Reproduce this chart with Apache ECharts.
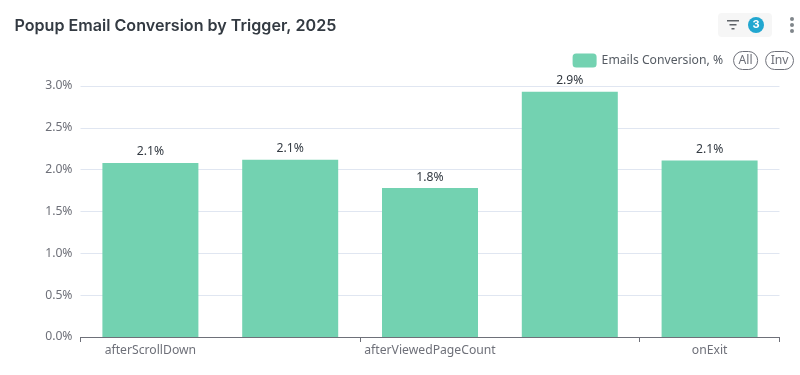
<!DOCTYPE html>
<html>
<head>
<meta charset="utf-8">
<style>html,body{margin:0;padding:0;background:#fff}#c{width:800px;height:375px}</style>
<script src="https://cdn.jsdelivr.net/npm/echarts@6/dist/echarts.min.js"></script>
</head>
<body>
<div id="c"></div>
<script>
const chartTitle = 'Popup Email Conversion by Trigger, 2025';
const seriesName = 'Emails Conversion, %';
const categories = ['afterScrollDown', '', 'afterViewedPageCount', '', 'onExit'];
const conversion = [2.08, 2.12, 1.78, 2.93, 2.11];
const FONT = '"Noto Sans", sans-serif';

const chart = echarts.init(document.getElementById('c'), null, {renderer: 'canvas'});
chart.setOption({
  animation: false,
  textStyle: {fontFamily: FONT},
  title: {
    text: chartTitle, left: 9.5, top: 13,
    textStyle: {fontFamily: 'Inter', fontSize: 16.1, fontWeight: 600, color: '#333a42'}
  },
  legend: {
    right: 1, top: 46, itemWidth: 24, itemHeight: 14, itemGap: 5,
    icon: 'roundRect',
    data: [seriesName],
    textStyle: {fontSize: 12.2, color: '#555b63', fontFamily: FONT},
    selector: [{type: 'all', title: 'All'}, {type: 'inverse', title: 'Inv'}],
    selectorLabel: {fontSize: 12.2, fontFamily: FONT, color: '#6e7079', borderColor: '#6e7079', borderWidth: 1, borderRadius: 10, padding: [3, 5]},
    selectorItemGap: 7,
    selectorButtonGap: 10
  },
  grid: {left: 80.5, right: 20.5, top: 86, bottom: 38},
  xAxis: {
    type: 'category',
    data: categories,
    axisLine: {lineStyle: {color: '#6e7079', width: 1}},
    axisTick: {show: true, interval: 1, length: 5, alignWithLabel: false, lineStyle: {color: '#6e7079'}},
    axisLabel: {interval: 1, show: true, fontSize: 12.2, color: '#6e7079', margin: 8, fontFamily: FONT}
  },
  yAxis: {
    type: 'value', min: 0, max: 3, interval: 0.5,
    axisLabel: {formatter: v => v.toFixed(1) + '%', fontSize: 12.2, color: '#6e7079', margin: 8, fontFamily: FONT},
    axisLine: {show: false}, axisTick: {show: false},
    splitLine: {lineStyle: {color: '#e0e6f1'}}
  },
  series: [{
    name: seriesName, type: 'bar', data: conversion, barWidth: 96,
    itemStyle: {color: '#73d2b1'},
    label: {show: true, position: 'top', distance: 5, fontSize: 12.2, color: '#333a42', fontFamily: FONT, formatter: p => p.value.toFixed(1) + '%'}
  }],
  graphic: [
    {type: 'rect', shape: {x: 718, y: 13, width: 54, height: 24, r: 4}, style: {fill: '#f6f6f6'}},
    {type: 'rect', shape: {x: 727, y: 20, width: 12, height: 1.5}, style: {fill: '#5f6368'}},
    {type: 'rect', shape: {x: 729.5, y: 24, width: 7, height: 1.5}, style: {fill: '#5f6368'}},
    {type: 'rect', shape: {x: 731.5, y: 28, width: 3, height: 1.5}, style: {fill: '#5f6368'}},
    {type: 'circle', shape: {cx: 756, cy: 25, r: 8}, style: {fill: '#22a7d0'}},
    {type: 'text', style: {x: 756, y: 25, text: '3', fill: '#fff', fontSize: 11, fontWeight: 700, fontFamily: 'Inter', align: 'center', verticalAlign: 'middle'}},
    {type: 'circle', shape: {cx: 792, cy: 19, r: 2}, style: {fill: '#80868b'}},
    {type: 'circle', shape: {cx: 792, cy: 25, r: 2}, style: {fill: '#80868b'}},
    {type: 'circle', shape: {cx: 792, cy: 31, r: 2}, style: {fill: '#80868b'}}
  ]
});
</script>
</body>
</html>
